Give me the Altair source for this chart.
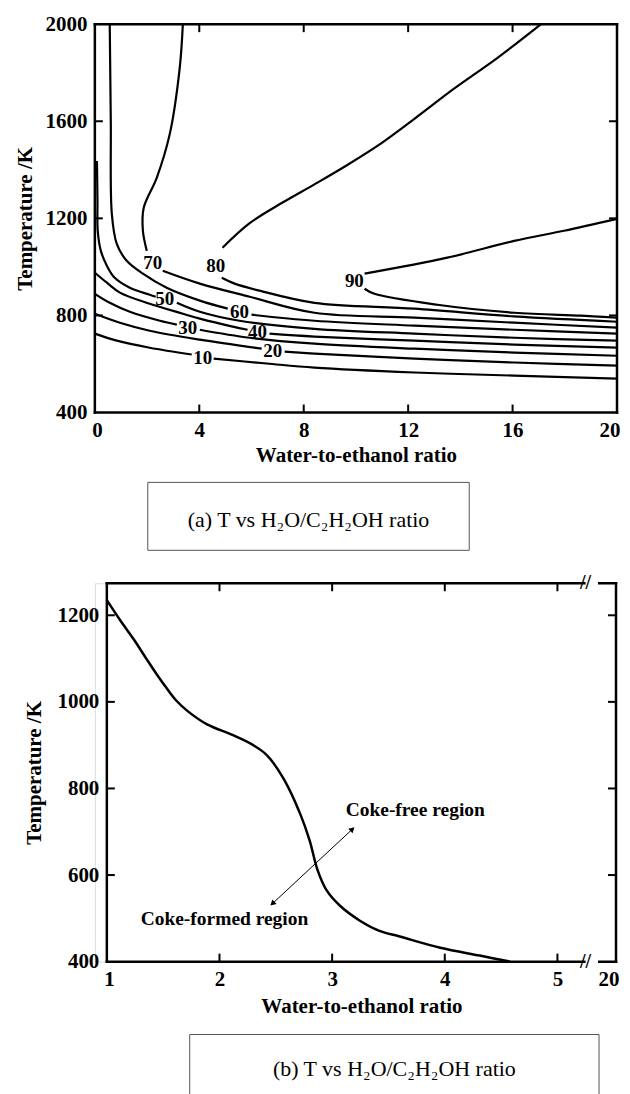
import altair as alt
import pandas as pd

FONT = "Liberation Serif"

# ---------------- panel (a): contour lines  (ratio x, temperature T / K)
C10_X = [0, 0.84, 2.10, 3.71, 4.55, 6.58, 8.41, 12.24, 16.06, 20]
C10_T = [725, 696, 667, 639, 622, 602, 585, 565, 552, 540]
C10_BREAK = 4

C20_X = [0, 0.96, 2.10, 4.02, 6.39, 7.27, 8.41, 12.24, 16.06, 20]
C20_T = [807, 770, 737, 700, 663, 651, 643, 622, 606, 593]
C20_BREAK = 5

C30_X = [0, 0.57, 1.34, 2.49, 3.14, 4.02, 5.93, 8.41, 12.24, 16.06, 20]
C30_T = [889, 852, 815, 778, 762, 741, 708, 684, 663, 647, 634]
C30_BREAK = 5

C40_X = [0, 0.46, 0.96, 2.10, 3.37, 4.02, 5.28, 5.85, 6.69, 8.41, 12.24, 16.06, 20]
C40_T = [976, 935, 894, 848, 807, 787, 754, 741, 725, 713, 696, 680, 667]
C40_BREAK = 8

C50_X = [0.08, 0.10, 0.11, 0.23, 0.46, 0.76, 1.34, 2.10, 2.33, 3.14, 4.02, 5.54, 8.41, 12.24, 16.06, 20]
C50_T = [1436, 1272, 1149, 1066, 1005, 955, 914, 885, 877, 852, 815, 778, 745, 725, 708, 696]
C50_BREAK = 9

C60_X = [0.57, 0.61, 0.65, 0.84, 1.22, 1.84, 2.75, 4.02, 5.09, 6.0, 8.41, 12.24, 16.06, 20]
C60_T = [2000, 1600, 1218, 1095, 1025, 972, 914, 861, 828, 803, 778, 758, 741, 725]
C60_BREAK = 9

C70_X = [3.37, 3.25, 2.87, 2.37, 1.87, 1.84, 1.99, 2.60, 4.02, 5.93, 8.41, 12.24, 16.06, 20]
C70_T = [2000, 1819, 1548, 1367, 1243, 1149, 1066, 984, 931, 877, 811, 791, 770, 750]
C70_BREAK = 7

C80_X = [17.09, 15.41, 13.77, 12.24, 10.98, 9.67, 8.41, 7.19, 5.93, 4.89, 4.86, 5.35, 6.31, 8.41, 12.24, 16.06, 20]
C80_T = [2000, 1860, 1735, 1610, 1510, 1420, 1340, 1265, 1180, 1079, 955, 931, 902, 852, 828, 796, 774]
C80_BREAK = 10

C90_X = [20, 17.97, 16.06, 13.50, 10.33, 10.33, 10.71, 13.12, 16.06, 18.62, 20]
C90_T = [1198, 1149, 1107, 1038, 972, 910, 889, 844, 811, 799, 791]
C90_BREAK = 5

LBL_VAL = ["10", "20", "30", "40", "50", "60", "70", "80", "90"]
LBL_X = [4.13, 6.81, 3.56, 6.23, 2.68, 5.54, 2.22, 4.63, 9.94]
LBL_T = [626, 655, 750, 733, 869, 815, 1017, 1005, 943]

A_X_DOMAIN = [0, 20]
A_Y_DOMAIN = [400, 2000]
A_X_TICKS = [0, 4, 8, 12, 16, 20]
A_Y_TICKS = [400, 800, 1200, 1600, 2000]
A_X_INNER = [4, 8, 12, 16]
A_Y_INNER = [800, 1200, 1600]

# ---------------- panel (b): coke boundary
B_CURVE_X = [1.0, 1.12, 1.24, 1.35, 1.45, 1.53, 1.62, 1.72, 1.89, 2.12, 2.30, 2.42, 2.57, 2.72,
             2.80, 2.87, 2.95, 3.07, 3.25, 3.42, 3.60, 3.96, 4.31, 4.58]
B_CURVE_T = [1235, 1188, 1144, 1100, 1061, 1032, 1002, 978, 948, 923, 900, 877, 822, 739,
             680, 612, 565, 529, 494, 471, 458, 432, 414, 400]

B_X_DOMAIN = [1, 5.52]
B_Y_DOMAIN = [400, 1274]
B_X_TICKS = [1, 2, 3, 4, 5, 5.52]
B_Y_TICKS = [400, 600, 800, 1000, 1200]
B_X_INNER = [2, 3, 4, 5]
B_Y_INNER = [600, 800, 1000, 1200]
B_BREAK_X = 5.30

ARROW_X = [2.47, 3.18]
ARROW_T = [534, 706]

NOTE_TEXT = ["Coke-free region", "Coke-formed region"]
NOTE_X = [3.12, 1.30]
NOTE_T = [750, 499]

X_TITLE = "Water-to-ethanol ratio"
Y_TITLE = "Temperature /K"
CAP_A = "(a) T vs H\u2082O/C\u2082H\u2082OH ratio"
CAP_B = "(b) T vs H\u2082O/C\u2082H\u2082OH ratio"

# ---------------------------------------------------------------------------
W1, H1 = 523, 389
W2, H2 = 522, 379
OFF2 = 12  # left offset of panel (b) data area


def seg_rows(level, xs, ts, brk):
    return [dict(level=level, seg=f"{level}{'a' if i < brk else 'b'}", i=i, x=x, T=t)
            for i, (x, t) in enumerate(zip(xs, ts))]


rows = []
for lv, xs, ts, bk in [(10, C10_X, C10_T, C10_BREAK), (20, C20_X, C20_T, C20_BREAK),
                       (30, C30_X, C30_T, C30_BREAK), (40, C40_X, C40_T, C40_BREAK),
                       (50, C50_X, C50_T, C50_BREAK), (60, C60_X, C60_T, C60_BREAK),
                       (70, C70_X, C70_T, C70_BREAK), (80, C80_X, C80_T, C80_BREAK),
                       (90, C90_X, C90_T, C90_BREAK)]:
    rows += seg_rows(lv, xs, ts, bk)
cont_df = pd.DataFrame(rows)
lbl_df = pd.DataFrame({"lab": LBL_VAL, "x": LBL_X, "T": LBL_T})

axis_style = dict(domain=False, ticks=False, grid=False, labelFont=FONT, labelFontSize=21,
                  labelFontWeight="bold", labelColor="black", titleFont=FONT, titleFontSize=21,
                  titleFontWeight="bold", titleColor="black", labelOverlap=False)


def frame_df(xd, yd):
    return pd.DataFrame({"x": [xd[0], xd[1], xd[0], xd[0]], "x2": [xd[0], xd[1], xd[1], xd[1]],
                         "T": [yd[0], yd[0], yd[0], yd[1]], "T2": [yd[1], yd[1], yd[0], yd[1]]})


def frame_layer(xd, yd, xs, ys):
    return alt.Chart(frame_df(xd, yd)).mark_rule(color="black", strokeWidth=2.5, strokeCap="square").encode(
        x=alt.X("x:Q", scale=xs), x2="x2:Q",
        y=alt.Y("T:Q", scale=ys), y2="T2:Q")


def tick_layers(xin, yin, xs, ys, W, H, x0=0):
    tx = alt.Chart(pd.DataFrame({"x": xin}))
    ty = alt.Chart(pd.DataFrame({"T": yin}))
    rs = dict(color="black", strokeWidth=2)
    return [
        tx.mark_rule(**rs).encode(x=alt.X("x:Q", scale=xs), y=alt.value(H), y2=alt.value(H - 8)),
        tx.mark_rule(**rs).encode(x=alt.X("x:Q", scale=xs), y=alt.value(0), y2=alt.value(8)),
        ty.mark_rule(**rs).encode(y=alt.Y("T:Q", scale=ys), x=alt.value(x0), x2=alt.value(x0 + 8)),
        ty.mark_rule(**rs).encode(y=alt.Y("T:Q", scale=ys), x=alt.value(W), x2=alt.value(W - 8)),
    ]


def caption_layers(text, x1, x2, y1, y2, ty, closed=True):
    one = alt.Chart(pd.DataFrame({"t": [text]}))
    st = dict(color="#555555", strokeWidth=1)
    out = [
        one.mark_rule(**st).encode(x=alt.value(x1), x2=alt.value(x2), y=alt.value(y1)),
        one.mark_rule(**st).encode(x=alt.value(x1), y=alt.value(y1), y2=alt.value(y2)),
        one.mark_rule(**st).encode(x=alt.value(x2), y=alt.value(y1), y2=alt.value(y2)),
    ]
    if closed:
        out.append(one.mark_rule(**st).encode(x=alt.value(x1), x2=alt.value(x2), y=alt.value(y2)))
    out.append(one.mark_text(font=FONT, fontSize=22, color="black", align="center", baseline="middle").encode(
        x=alt.value((x1 + x2) / 2), y=alt.value(ty), text="t:N"))
    return out


# ---------------- panel (a)
xs1 = alt.Scale(domain=A_X_DOMAIN, nice=False)
ys1 = alt.Scale(domain=A_Y_DOMAIN, nice=False)

lines_a = alt.Chart(cont_df).mark_line(color="black", strokeWidth=2.2, interpolate="catmull-rom").encode(
    x=alt.X("x:Q", scale=xs1, axis=alt.Axis(values=A_X_TICKS, title=X_TITLE,
                                            labelExpr="toString(datum.value)",
                                            labelFlush=True, labelFlushOffset=3,
                                            labelPadding=7, titlePadding=4, **axis_style)),
    y=alt.Y("T:Q", scale=ys1, axis=alt.Axis(values=A_Y_TICKS, title=Y_TITLE,
                                            labelExpr="toString(datum.value)", labelFlush=False,
                                            labelPadding=8, titlePadding=9, **axis_style)),
    detail="seg:N", order="i:Q")

labels_a = alt.Chart(lbl_df).mark_text(font=FONT, fontSize=19, fontWeight="bold", color="black",
                                       align="center", baseline="middle").encode(
    x=alt.X("x:Q", scale=xs1), y=alt.Y("T:Q", scale=ys1), text="lab:N")

panel_a = alt.layer(
    lines_a, labels_a, frame_layer(A_X_DOMAIN, A_Y_DOMAIN, xs1, ys1),
    *tick_layers(A_X_INNER, A_Y_INNER, xs1, ys1, W1, H1),
    *caption_layers(CAP_A, 53, 375, H1 + 70, H1 + 138, H1 + 108),
).properties(width=W1, height=H1)

# ---------------- panel (b)
xs2 = alt.Scale(domain=B_X_DOMAIN, range=[OFF2, W2], nice=False)
ys2 = alt.Scale(domain=B_Y_DOMAIN, nice=False)

curve_df = pd.DataFrame({"x": B_CURVE_X, "T": B_CURVE_T})
curve_b = alt.Chart(curve_df).mark_line(color="black", strokeWidth=2.5, interpolate="catmull-rom").encode(
    x=alt.X("x:Q", scale=xs2, axis=alt.Axis(values=B_X_TICKS, title=X_TITLE,
                                            labelExpr="datum.value > 5.2 ? '20' : toString(datum.value)",
                                            labelFlush=True, labelFlushOffset=3,
                                            labelPadding=7, titlePadding=6, **axis_style)),
    y=alt.Y("T:Q", scale=ys2, axis=alt.Axis(values=B_Y_TICKS, title=Y_TITLE, offset=-OFF2,
                                            labelExpr="toString(datum.value)", labelFlush=False,
                                            labelPadding=8, titlePadding=12, **axis_style)))

brk_df = pd.DataFrame({"x": [B_BREAK_X - 0.05, B_BREAK_X - 0.05], "x2": [B_BREAK_X + 0.06, B_BREAK_X + 0.06],
                       "T": [B_Y_DOMAIN[0], B_Y_DOMAIN[1]]})
gap_b = alt.Chart(brk_df).mark_rule(color="white", strokeWidth=5).encode(
    x=alt.X("x:Q", scale=xs2), x2="x2:Q", y=alt.Y("T:Q", scale=ys2))
slash_b = alt.Chart(brk_df).mark_text(text="//", font=FONT, fontSize=20, fontWeight="bold", color="black",
                                      align="center", baseline="middle").encode(
    x=alt.X("x:Q", scale=xs2), y=alt.Y("T:Q", scale=ys2))

arrow_df = pd.DataFrame({"x": ARROW_X, "T": ARROW_T})
arrow_line = alt.Chart(arrow_df).mark_line(color="black", strokeWidth=1).encode(
    x=alt.X("x:Q", scale=xs2), y=alt.Y("T:Q", scale=ys2))
head_lo = alt.Chart(arrow_df.iloc[[0]]).mark_point(shape="triangle-up", filled=True, color="black",
                                                   size=40, angle=227, opacity=1).encode(
    x=alt.X("x:Q", scale=xs2), y=alt.Y("T:Q", scale=ys2))
head_hi = alt.Chart(arrow_df.iloc[[1]]).mark_point(shape="triangle-up", filled=True, color="black",
                                                   size=40, angle=47, opacity=1).encode(
    x=alt.X("x:Q", scale=xs2), y=alt.Y("T:Q", scale=ys2))

note_df = pd.DataFrame({"t": NOTE_TEXT, "x": NOTE_X, "T": NOTE_T})
notes_b = alt.Chart(note_df).mark_text(font=FONT, fontSize=19.5, fontWeight="bold", color="black",
                                       align="left", baseline="middle").encode(
    x=alt.X("x:Q", scale=xs2), y=alt.Y("T:Q", scale=ys2), text="t:N")

panel_b = alt.layer(
    curve_b, frame_layer(B_X_DOMAIN, B_Y_DOMAIN, xs2, ys2), gap_b, slash_b,
    arrow_line, head_lo, head_hi, notes_b,
    *tick_layers(B_X_INNER, B_Y_INNER, xs2, ys2, W2, H2, x0=OFF2),
    *caption_layers(CAP_B, 95, 505, H2 + 73, H2 + 500, H2 + 108, closed=False),
).properties(width=W2, height=H2)

chart = alt.vconcat(panel_a, panel_b, spacing=21).properties(
    padding={"left": 6, "top": 3, "right": 0, "bottom": 0}
).configure_view(stroke=None).configure(background="white")

chart.save("out.html", embed_options={"renderer": "svg", "actions": False})
